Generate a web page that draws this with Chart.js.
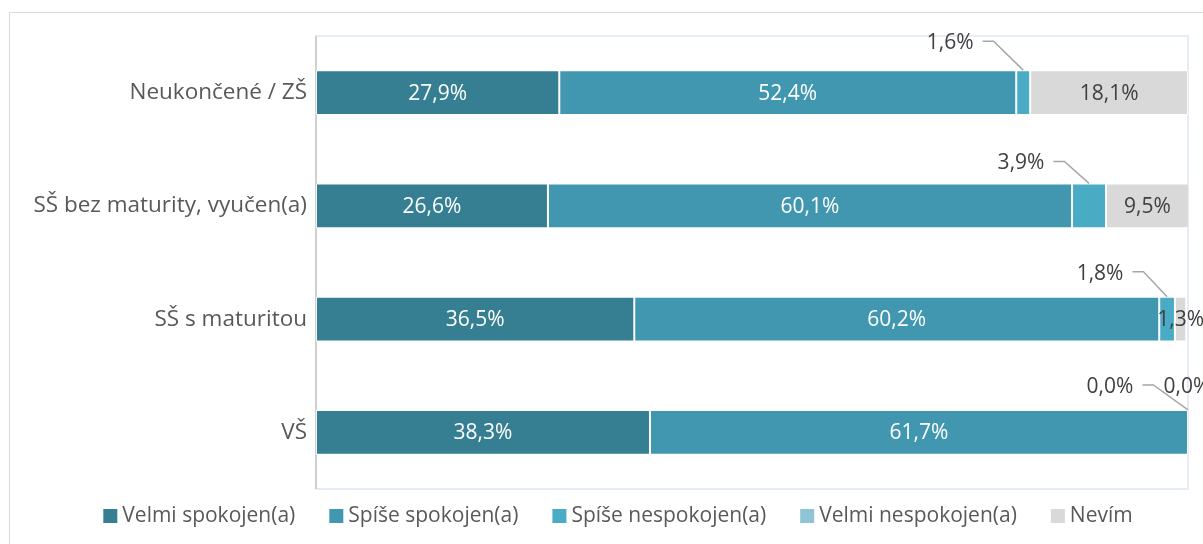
<!DOCTYPE html>
<html><head><meta charset="utf-8">
<script src="https://cdn.jsdelivr.net/npm/chart.js@4"></script>
<style>
html,body{margin:0;padding:0;background:#fff;overflow:hidden;width:1203px;height:544px}
#wrap{position:absolute;left:0;top:0;width:1203px;height:544px;overflow:hidden}
#frame{position:absolute;left:9px;top:12px;width:1300px;height:600px;border:1px solid #d9d9d9;box-sizing:border-box}
canvas{position:absolute;left:0;top:0}
</style></head><body>
<div id="wrap"><div id="frame"></div><canvas id="c" width="1203" height="544"></canvas></div>
<script>
const categories = ['Neukončené / ZŠ', 'SŠ bez maturity, vyučen(a)', 'SŠ s maturitou', 'VŠ'];
const seriesNames = ['Velmi spokojen(a)', 'Spíše spokojen(a)', 'Spíše nespokojen(a)', 'Velmi nespokojen(a)', 'Nevím'];
const velmiSpokojen = [27.9, 26.6, 36.5, 38.3];
const spiseSpokojen = [52.4, 60.1, 60.2, 61.7];
const spiseNespokojen = [1.6, 3.9, 1.8, 0.0];
const velmiNespokojen = [null, null, null, 0.0];
const nevim = [18.1, 9.5, 1.3, null];

const colors = ['#367f93', '#4197b0', '#4aabc5', '#8fc4d6', '#d9d9d9'];
const labelColors = ['#ffffff', '#ffffff', '#404040', '#404040', '#404040'];
const FONT = "'Open Sans', sans-serif";
const FS = 21;      // value labels + legend
const FS_CAT = 22.5; // category labels

// callout label placement (style only): text centre offset from segment top-centre
const callouts = [
  {ds: 2, row: 0, dx: -73, dy: -27, line: true},
  {ds: 2, row: 1, dx: -68, dy: -20, line: true},
  {ds: 2, row: 2, dx: -67, dy: -23, line: true},
  {ds: 2, row: 3, dx: -78, dy: -23, line: true},
  {ds: 3, row: 3, dx: -1, dy: -23, line: false}
];

const fmt = v => v.toFixed(1).replace('.', ',') + '%';

const allSeries = [velmiSpokojen, spiseSpokojen, spiseNespokojen, velmiNespokojen, nevim];

const plotFrame = {
  id: 'plotFrame',
  beforeDatasetsDraw(chart) {
    const {ctx, chartArea: a} = chart;
    ctx.save();
    ctx.strokeStyle = '#dde6f0';
    ctx.lineWidth = 1.5;
    ctx.strokeRect(a.left, a.top, a.right - a.left, a.bottom - a.top);
    ctx.strokeStyle = '#d0d0d0';
    ctx.lineWidth = 2;
    ctx.beginPath();
    ctx.moveTo(a.left, a.top);
    ctx.lineTo(a.left, a.bottom);
    ctx.stroke();
    ctx.restore();
  }
};

const valueLabels = {
  id: 'valueLabels',
  afterDatasetsDraw(chart) {
    const {ctx} = chart;
    ctx.save();
    ctx.font = FS + 'px ' + FONT;
    ctx.textAlign = 'center';
    ctx.textBaseline = 'middle';
    [0, 1, 4].forEach(di => {
      const meta = chart.getDatasetMeta(di);
      meta.data.forEach((bar, i) => {
        const v = chart.data.datasets[di].data[i];
        if (v === null || v === undefined) return;
        ctx.fillStyle = labelColors[di];
        ctx.fillText(fmt(v), (bar.x + bar.base) / 2, bar.y + 1);
      });
    });
    callouts.forEach(c => {
      const bar = chart.getDatasetMeta(c.ds).data[c.row];
      const v = chart.data.datasets[c.ds].data[c.row];
      const ax = (bar.x + bar.base) / 2;
      const ay = bar.y - bar.height / 2;
      const tx = ax + c.dx, ty = ay + c.dy;
      const txt = fmt(v);
      const w = ctx.measureText(txt).width;
      ctx.fillStyle = '#404040';
      ctx.fillText(txt, tx, ty);
      if (c.line) {
        const sx = tx + w / 2 + 9;
        const ly = ty - 2;
        ctx.strokeStyle = '#a6a6a6';
        ctx.lineWidth = 1.5;
        ctx.beginPath();
        ctx.moveTo(sx, ly);
        ctx.lineTo(sx + 11, ly);
        ctx.lineTo(ax, ay);
        ctx.stroke();
      }
    });
    ctx.restore();
  }
};

const customLegend = {
  id: 'customLegend',
  afterDraw(chart) {
    const {ctx} = chart;
    ctx.save();
    ctx.font = FS + 'px ' + FONT;
    ctx.textBaseline = 'middle';
    ctx.textAlign = 'left';
    const box = 14, gapText = 5, gapItem = 34, cy = 516, centre = 618;
    const items = chart.data.datasets.map(d => ({text: d.label, color: d.backgroundColor, w: ctx.measureText(d.label).width}));
    const total = items.reduce((s, it) => s + box + gapText + it.w, 0) + gapItem * (items.length - 1);
    let x = centre - total / 2;
    items.forEach(it => {
      ctx.fillStyle = it.color;
      ctx.fillRect(x, cy - box / 2, box, box);
      ctx.fillStyle = '#595959';
      ctx.fillText(it.text, x + box + gapText, cy);
      x += box + gapText + it.w + gapItem;
    });
    ctx.restore();
  }
};

new Chart(document.getElementById('c'), {
  type: 'bar',
  data: {
    labels: categories,
    datasets: allSeries.map((s, i) => ({
      label: seriesNames[i],
      data: s,
      backgroundColor: colors[i],
      borderColor: 'rgba(255,255,255,0.75)',
      borderWidth: 1,
      borderSkipped: false,
      categoryPercentage: 1,
      barPercentage: 0.397
    }))
  },
  options: {
    indexAxis: 'y',
    responsive: false,
    animation: false,
    devicePixelRatio: 1,
    layout: {padding: {top: 36, right: 15, bottom: 55, left: 0}},
    plugins: {legend: {display: false}, tooltip: {enabled: false}},
    scales: {
      x: {stacked: true, min: 0, max: 100, display: false},
      y: {
        stacked: true,
        grid: {display: false, drawTicks: false},
        border: {display: false},
        ticks: {color: '#595959', font: {family: FONT, size: FS_CAT}, padding: 9},
        afterFit(scale) { scale.width = 316; }
      }
    }
  },
  plugins: [plotFrame, valueLabels, customLegend]
});
</script>
</body></html>
